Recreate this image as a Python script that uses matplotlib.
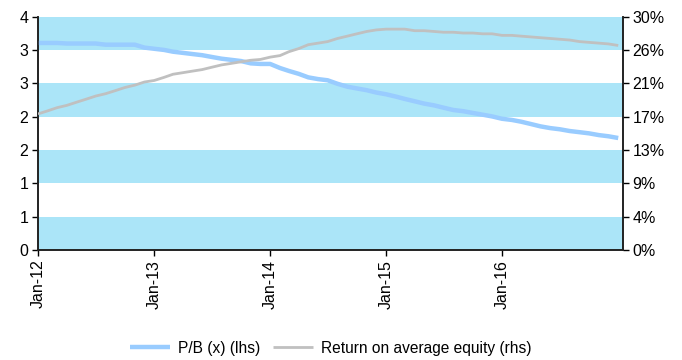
import matplotlib
matplotlib.use("Agg")
import matplotlib.pyplot as plt
import matplotlib.dates as mdates
from matplotlib.ticker import FuncFormatter
import numpy as np
import pandas as pd

plt.rcParams['font.family'] = ['Liberation Sans', 'DejaVu Sans']

# monthly, Jan-12 .. Jan-17
dates = pd.date_range('2012-01-01', periods=61, freq='MS')

pb = [3.55, 3.55, 3.55, 3.54, 3.54, 3.54, 3.54, 3.52, 3.52, 3.52,
      3.52, 3.47, 3.45, 3.43, 3.40, 3.38, 3.36, 3.34, 3.31, 3.28,
      3.26, 3.24, 3.20, 3.19, 3.19, 3.12, 3.07, 3.02, 2.96, 2.93,
      2.91, 2.85, 2.80, 2.77, 2.74, 2.70, 2.67, 2.63, 2.59, 2.55,
      2.51, 2.48, 2.44, 2.40, 2.38, 2.35, 2.32, 2.29, 2.25, 2.23,
      2.20, 2.16, 2.12, 2.09, 2.07, 2.04, 2.02, 2.00, 1.97, 1.95,
      1.92]

roe = [17.5, 17.9, 18.3, 18.6, 19.0, 19.4, 19.8, 20.1, 20.5, 20.9,
       21.2, 21.6, 21.8, 22.2, 22.6, 22.8, 23.0, 23.2, 23.5, 23.8,
       24.0, 24.2, 24.4, 24.5, 24.8, 25.0, 25.5, 25.9, 26.4, 26.6,
       26.8, 27.2, 27.5, 27.8, 28.1, 28.3, 28.4, 28.4, 28.4, 28.2,
       28.2, 28.1, 28.0, 28.0, 27.9, 27.9, 27.8, 27.8, 27.6, 27.6,
       27.5, 27.4, 27.3, 27.2, 27.1, 27.0, 26.8, 26.7, 26.6, 26.5,
       26.3]

xtick_dates = pd.to_datetime(['2012-01-01', '2013-01-01', '2014-01-01', '2015-01-01', '2016-01-01'])

left_ticks = np.linspace(0, 4, 8)
right_ticks = np.linspace(0, 30, 8)

fig = plt.figure(figsize=(6.82, 3.6), dpi=100)
ax = fig.add_axes([38/682, 1-250/360, (623-38)/682, (250-16.7)/360])
ax2 = ax.twinx()

band = '#abe5f8'
for i in range(0, len(left_ticks) - 1, 2):
    ax.axhspan(left_ticks[i], left_ticks[i+1], color=band, lw=0, zorder=0)

l1, = ax.plot(dates, pb, color='#99ccff', lw=3.2, solid_capstyle='butt', zorder=3)
l2, = ax2.plot(dates, roe, color='#c0c0c0', lw=2.0, solid_capstyle='butt', zorder=3)

ax.set_xlim(pd.Timestamp('2012-01-01'), pd.Timestamp('2017-01-16'))
ax.set_ylim(0, 4)
ax2.set_ylim(0, 30)
ax.set_yticks(left_ticks)
ax.yaxis.set_major_formatter(FuncFormatter(lambda v, p: '%.0f' % v))
ax2.set_yticks(right_ticks)
ax2.yaxis.set_major_formatter(FuncFormatter(lambda v, p: '%.0f%%' % v))

ax.set_xticks(xtick_dates)
ax.xaxis.set_major_formatter(mdates.DateFormatter('%b-%y'))
ax.tick_params(axis='x', rotation=90, length=4, width=1, labelsize=11.5, pad=3)
ax.tick_params(axis='y', length=4, width=1, labelsize=11.5, pad=3)
ax2.tick_params(axis='y', length=4, width=1, labelsize=11.5, pad=3)

for a in (ax, ax2):
    a.spines['top'].set_visible(False)
    for s in ('left', 'right', 'bottom'):
        a.spines[s].set_color('#222222')
        a.spines[s].set_linewidth(1.2)
ax2.patch.set_visible(False)

fig.legend([l1, l2], ['P/B (x) (lhs)', 'Return on average equity (rhs)'],
           loc='center', bbox_to_anchor=(330.5/682, 1-348/360), ncol=2,
           frameon=False, fontsize=11.2, handlelength=2.6, columnspacing=0.8,
           handletextpad=0.5)

fig.savefig('out.png', dpi=100)
